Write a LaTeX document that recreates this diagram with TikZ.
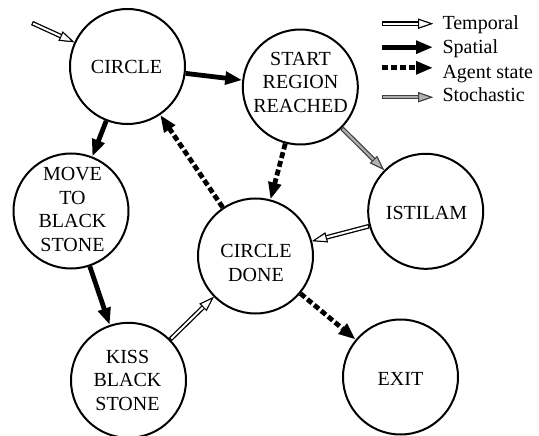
\documentclass[tikz,border=0pt]{standalone}
\usepackage{fontspec}
\setmainfont{Liberation Serif}
\usetikzlibrary{arrows.meta}
\tikzset{
  state/.style={circle, draw, line width=2pt, minimum size=115pt, inner sep=0pt},
  lbl/.style={font=\fontsize{20}{23.5}\selectfont, align=center, inner sep=0pt},
  leg/.style={font=\fontsize{20}{24}\selectfont, inner sep=0pt, anchor=base west},
  spatial/.style={line width=4.8pt, -{Triangle[length=17pt, width=12.5pt]}},
  agent/.style={line width=4.8pt, dash pattern=on 6pt off 3pt, -{Triangle[length=17pt, width=12.5pt]}},
  temporal/.style={draw=white, line width=2pt, shorten <=1.2pt,
    preaction={draw=black, line width=4.6pt, shorten <=0pt,
      -{Triangle[length=15pt, width=10pt, line width=1pt, color=black, fill=white]}},
    -{Triangle[length=15pt, width=10pt, line width=1pt, color=black, fill=white]}},
  stoch/.style={draw=gray!65, line width=2.2pt, shorten <=1.2pt,
    preaction={draw=black!75, line width=4.6pt, shorten <=0pt,
      -{Triangle[length=15pt, width=10pt, line width=1pt, color=black!75, fill=gray!60]}},
    -{Triangle[length=15pt, width=10pt, line width=1pt, color=black!75, fill=gray!60]}},
}
\begin{document}
\begin{tikzpicture}[x=1pt, y=-1pt]
\useasboundingbox (0,0) rectangle (539,436);
% states
\node[state] (circ) at (127.5,66.5) {};
\node[state] (start) at (300.3,87) {};
\node[state] (move) at (71,211) {};
\node[state] (done) at (255.5,256) {};
\node[state] (isti) at (425.7,211.3) {};
\node[state] (kiss) at (128.5,380.3) {};
\node[state] (exit) at (400.5,377) {};
% labels
\node[lbl] (tcirc) at (126.5,67.2) {CIRCLE};
\node[lbl] (tstart) at (300.5,82) {START\\REGION\\REACHED};
\node[lbl] (tmove) at (72.5,209.5) {MOVE\\TO\\BLACK\\STONE};
\node[lbl] (tdone) at (256,263) {CIRCLE\\DONE};
\node[lbl] (tisti) at (426.5,212.7) {ISTILAM};
\node[lbl] (tkiss) at (127.5,380) {KISS\\BLACK\\STONE};
\node[lbl] (texit) at (400.5,379) {EXIT};
% edges
\coordinate (init) at (32,23);
\draw[temporal] (init) -- (circ);
\draw[spatial] (circ) -- (start);
\draw[spatial] (circ) -- (move);
\draw[spatial] (move) -- (kiss);
\draw[agent] (start) -- (done);
\draw[agent] (done) -- (circ);
\draw[agent] (done) -- (exit);
\draw[stoch] (start) -- (isti);
\draw[temporal] (isti) -- (done);
\draw[temporal] (kiss) -- (done);
% legend
\coordinate (l1a) at (382,23.7); \coordinate (l1b) at (433,23.7);
\coordinate (l2a) at (382,47.2); \coordinate (l2b) at (433,47.2);
\coordinate (l3a) at (382,67.8); \coordinate (l3b) at (433,67.8);
\coordinate (l4a) at (382,97.2); \coordinate (l4b) at (433,97.2);
\draw[temporal] (l1a) -- (l1b);
\draw[spatial] (l2a) -- (l2b);
\draw[agent] (l3a) -- (l3b);
\draw[stoch] (l4a) -- (l4b);
\node[leg] (g1) at (442.3,29.3) {Temporal};
\node[leg] (g2) at (442.3,54) {Spatial};
\node[leg] (g3) at (442.3,79) {Agent state};
\node[leg] (g4) at (442.3,102) {Stochastic};
\end{tikzpicture}
\end{document}
